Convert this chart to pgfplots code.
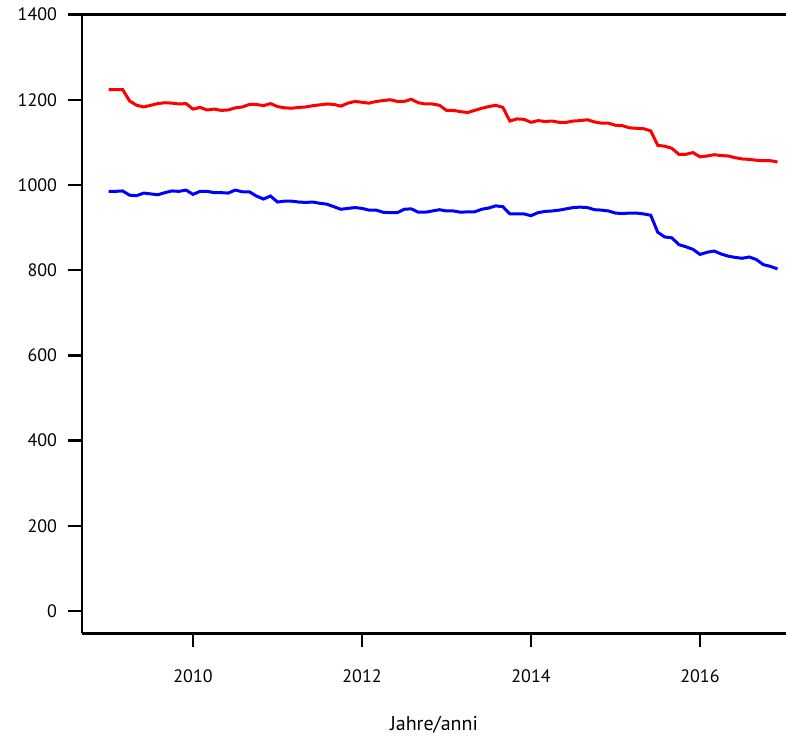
\documentclass[border=0pt]{standalone}
\usepackage{pgfplots}
\pgfplotsset{compat=1.18}
\usepackage{pgfplotstable}
\usepackage{fontspec}
\setmainfont{PT Sans}

% monthly values, Jan 2009 - Dec 2016
\pgfplotstableread{
t        red   blue
2009.000 1224  985
2009.083 1224  985
2009.167 1224  986
2009.250 1197  976
2009.333 1187  975
2009.417 1183  981
2009.500 1187  979
2009.583 1191  977
2009.667 1193  982
2009.750 1192  986
2009.833 1190  985
2009.917 1191  988
2010.000 1178  978
2010.083 1182  985
2010.167 1176  985
2010.250 1178  982
2010.333 1175  982
2010.417 1176  981
2010.500 1181  988
2010.583 1183  984
2010.667 1189  984
2010.750 1189  974
2010.833 1186  967
2010.917 1191  974
2011.000 1184  960
2011.083 1181  962
2011.167 1180  962
2011.250 1182  960
2011.333 1183  959
2011.417 1186  960
2011.500 1188  957
2011.583 1190  955
2011.667 1189  949
2011.750 1185  943
2011.833 1192  945
2011.917 1196  947
2012.000 1194  945
2012.083 1192  941
2012.167 1196  941
2012.250 1198  936
2012.333 1200  935
2012.417 1196  935
2012.500 1196  943
2012.583 1201  944
2012.667 1193  936
2012.750 1190  936
2012.833 1190  939
2012.917 1187  942
2013.000 1175  939
2013.083 1175  939
2013.167 1172  936
2013.250 1170  937
2013.333 1175  937
2013.417 1180  943
2013.500 1184  946
2013.583 1187  951
2013.667 1182  949
2013.750 1150  932
2013.833 1155  932
2013.917 1154  932
2014.000 1147  928
2014.083 1151  935
2014.167 1149  938
2014.250 1150  939
2014.333 1147  941
2014.417 1147  944
2014.500 1150  947
2014.583 1151  948
2014.667 1153  947
2014.750 1148  942
2014.833 1145  941
2014.917 1145  939
2015.000 1140  934
2015.083 1139  933
2015.167 1134  934
2015.250 1133  934
2015.333 1132  932
2015.417 1127  929
2015.500 1093  889
2015.583 1091  878
2015.667 1086  876
2015.750 1072  860
2015.833 1072  855
2015.917 1076  849
2016.000 1066  837
2016.083 1068  842
2016.167 1071  845
2016.250 1069  838
2016.333 1068  833
2016.417 1064  830
2016.500 1061  828
2016.583 1060  831
2016.667 1058  825
2016.750 1057  813
2016.833 1057  809
2016.917 1054  803
}\data

\begin{document}
\begin{tikzpicture}
\begin{axis}[
  scale only axis,
  width=352pt, height=309.4pt,
  xmin=2008.686, xmax=2017.018,
  ymin=-52, ymax=1400,
  clip=false,
  axis x line=bottom, axis y line=left,
  axis line style={-, line width=1.2pt},
  xtick={2010,2012,2014,2016},
  ytick={0,200,...,1400},
  tick align=outside,
  major tick length=7pt,
  tick style={line width=1.2pt, black},
  /pgf/number format/assume math mode=true,
  /pgf/number format/1000 sep={},
  ticklabel style={font=\fontsize{9}{11}\selectfont},
  xticklabel style={anchor=center, yshift=-14.5pt},
  yticklabel style={anchor=east, xshift=-2pt},
  xlabel={Jahre/anni},
  x label style={at={(axis description cs:0.5,0)}, anchor=center,
    yshift=-45.5pt, font=\fontsize{10}{12}\selectfont},
]
\addplot[red, line width=1.5pt] table[x=t, y=red] {\data};
\addplot[blue, line width=1.5pt] table[x=t, y=blue] {\data};
\draw[line width=1.2pt] (rel axis cs:0,1) -- (rel axis cs:1,1);
\end{axis}
\pgfresetboundingbox
\path[use as bounding box]
  ([xshift=-41pt, yshift=-53.35pt]current axis.south west)
  rectangle ([yshift=7.25pt]current axis.north east);
\end{tikzpicture}
\end{document}
